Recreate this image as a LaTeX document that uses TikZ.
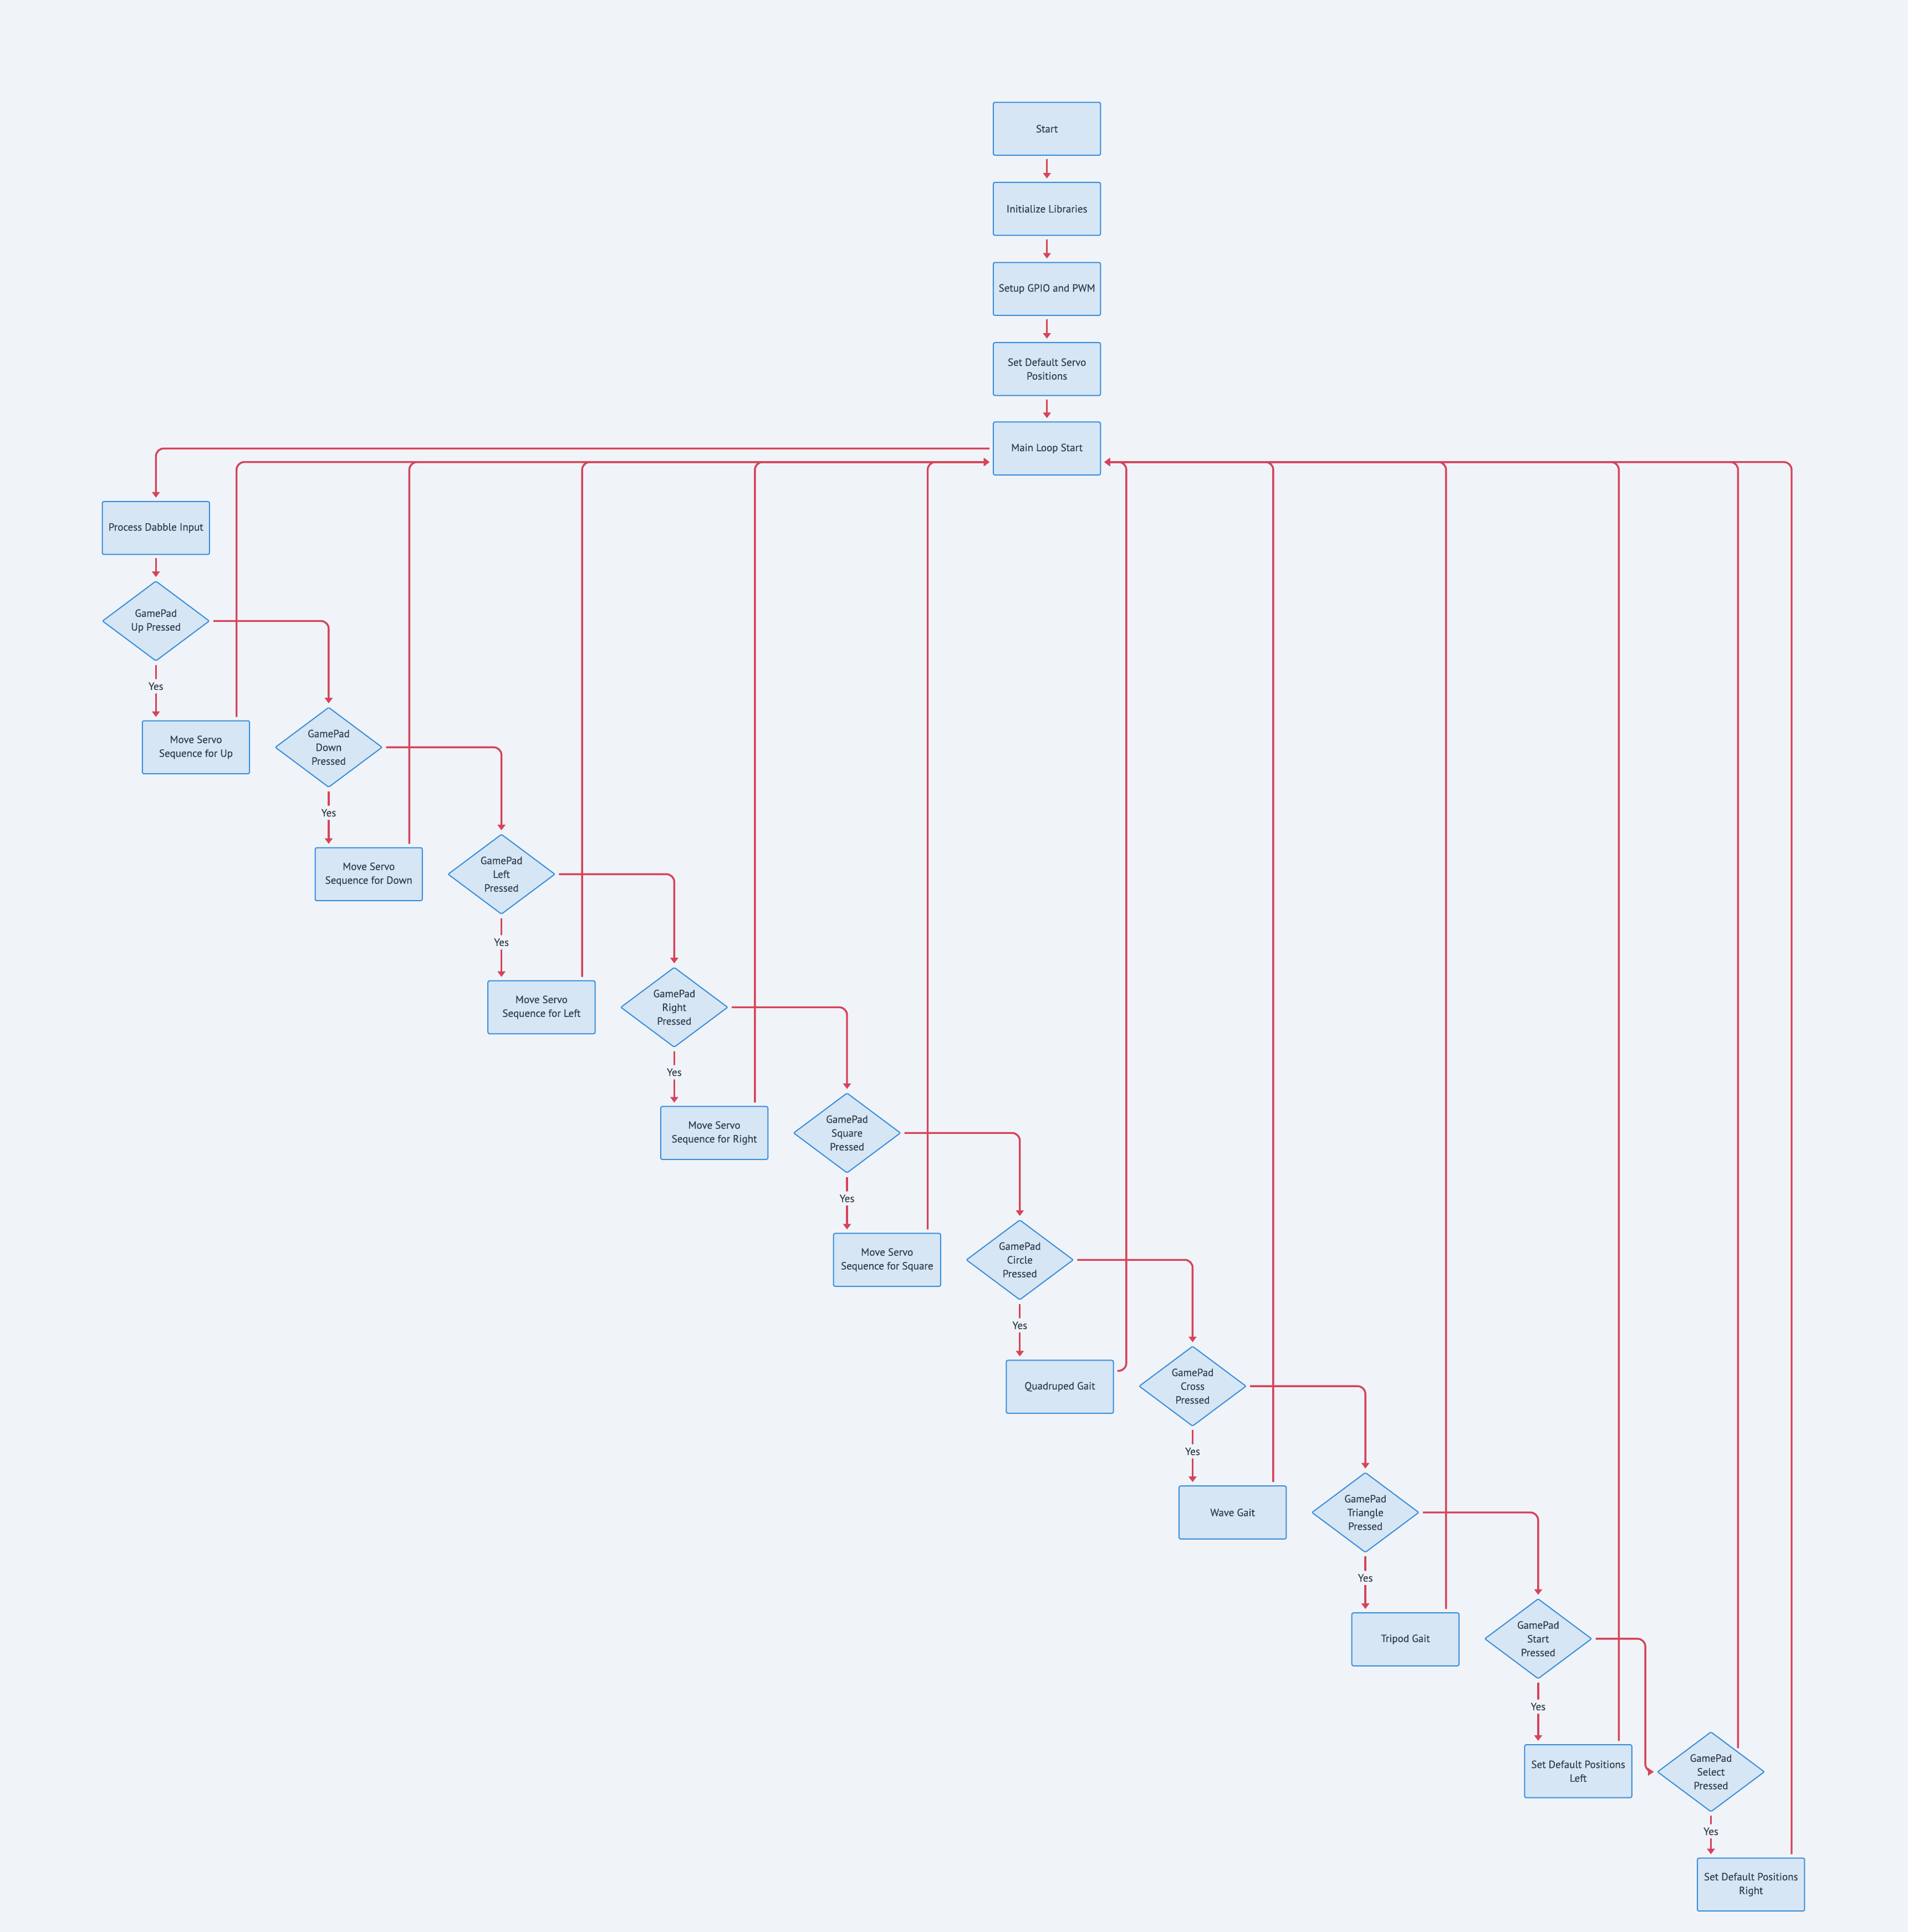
\documentclass[tikz,border=0pt]{standalone}
\usepackage{fontspec}
\setmainfont{PT Sans}[FakeBold=0.4]
\usetikzlibrary{shapes.geometric,arrows.meta,calc}
\definecolor{bgc}{RGB}{240,244,248}
\definecolor{boxf}{RGB}{214,230,245}
\definecolor{boxd}{RGB}{58,142,219}
\definecolor{redc}{RGB}{214,67,90}
\definecolor{txt}{RGB}{52,62,76}
\begin{document}
\begin{tikzpicture}[x=1.11175pt,y=-1.11175pt,
  font=\fontsize{9.5}{12.4}\selectfont,
  proc/.style={draw=boxd, fill=boxf, line width=1pt, rounded corners=1.5pt,
    minimum width=96.7pt, minimum height=47.8pt, align=center, text=txt, inner sep=2pt},
  dec/.style={diamond, draw=boxd, fill=boxf, line width=1pt, rounded corners=1pt,
    minimum width=96.7pt, minimum height=72.3pt, aspect=1.34, inner sep=0pt, align=center, text=txt},
  arr/.style={draw=redc, line width=1.7pt, -{Triangle[width=7pt,length=5pt]},
    rounded corners=7pt, shorten >=3pt, shorten <=3pt},
  yeslbl/.style={fill=bgc, text=txt, inner xsep=1.5pt, inner ysep=3pt, pos=0.42}
]
\fill[bgc] (0,0) rectangle (1548,1568);
\useasboundingbox (0,0) rectangle (1548,1568);

% top chain
\node[proc] (start) at (849.5,104.5) {Start};
\node[proc] (init) at (849.5,169.5) {Initialize Libraries};
\node[proc] (setup) at (849.5,234.5) {Setup GPIO and PWM};
\node[proc] (setdef) at (849.5,299.5) {Set Default Servo\\Positions};
\node[proc] (main) at (849.5,364) {Main Loop Start};
\node[proc] (pdi) at (126.5,428.5) {Process Dabble Input};

% decisions
\node[dec] (dUp) at (126.5,504) {GamePad\\Up Pressed};
\node[dec] (dDown) at (266.7,606.5) {GamePad\\Down\\Pressed};
\node[dec] (dLeft) at (406.9,709.5) {GamePad\\Left\\Pressed};
\node[dec] (dRight) at (547.1,817.5) {GamePad\\Right\\Pressed};
\node[dec] (dSquare) at (687.3,919.5) {GamePad\\Square\\Pressed};
\node[dec] (dCircle) at (827.5,1022.5) {GamePad\\Circle\\Pressed};
\node[dec] (dCross) at (967.7,1125) {GamePad\\Cross\\Pressed};
\node[dec] (dTri) at (1107.9,1227.5) {GamePad\\Triangle\\Pressed};
\node[dec] (dStart) at (1248.1,1330) {GamePad\\Start\\Pressed};
\node[dec] (dSel) at (1388.3,1438) {GamePad\\Select\\Pressed};

% actions
\node[proc] (mUp) at (159,606.5) {Move Servo\\Sequence for Up};
\node[proc] (mDown) at (299.2,709.5) {Move Servo\\Sequence for Down};
\node[proc] (mLeft) at (439.4,817.5) {Move Servo\\Sequence for Left};
\node[proc] (mRight) at (579.6,919.5) {Move Servo\\Sequence for Right};
\node[proc] (mSquare) at (719.8,1022.5) {Move Servo\\Sequence for Square};
\node[proc] (quad) at (860,1125.5) {Quadruped Gait};
\node[proc] (wave) at (1000.2,1227.5) {Wave Gait};
\node[proc] (tri) at (1140.4,1330.5) {Tripod Gait};
\node[proc] (sdpl) at (1280.6,1437.5) {Set Default Positions\\Left};
\node[proc] (sdpr) at (1420.8,1529.5) {Set Default Positions\\Right};

\coordinate (inL) at ($(main.west)+(0,11)$);
\coordinate (inR) at ($(main.east)+(0,11)$);

% chain arrows
\draw[arr] (start) -- (init);
\draw[arr] (init) -- (setup);
\draw[arr] (setup) -- (setdef);
\draw[arr] (setdef) -- (main);
\draw[arr] (main.west) -| (pdi.north);
\draw[arr] (pdi) -- (dUp);

% forward edges between decisions
\draw[arr] (dUp.east) -| (dDown.north);
\draw[arr] (dDown.east) -| (dLeft.north);
\draw[arr] (dLeft.east) -| (dRight.north);
\draw[arr] (dRight.east) -| (dSquare.north);
\draw[arr] (dSquare.east) -| (dCircle.north);
\draw[arr] (dCircle.east) -| (dCross.north);
\draw[arr] (dCross.east) -| (dTri.north);
\draw[arr] (dTri.east) -| (dStart.north);
\draw[arr] (dStart.east) -- ++(43,0) |- (dSel.west);

% yes edges
\draw[arr] (dUp.south) -- node[yeslbl]{Yes} (dUp.south |- mUp.north);
\draw[arr] (dDown.south) -- node[yeslbl]{Yes} (dDown.south |- mDown.north);
\draw[arr] (dLeft.south) -- node[yeslbl]{Yes} (dLeft.south |- mLeft.north);
\draw[arr] (dRight.south) -- node[yeslbl]{Yes} (dRight.south |- mRight.north);
\draw[arr] (dSquare.south) -- node[yeslbl]{Yes} (dSquare.south |- mSquare.north);
\draw[arr] (dCircle.south) -- node[yeslbl]{Yes} (dCircle.south |- quad.north);
\draw[arr] (dCross.south) -- node[yeslbl]{Yes} (dCross.south |- wave.north);
\draw[arr] (dTri.south) -- node[yeslbl]{Yes} (dTri.south |- tri.north);
\draw[arr] (dStart.south) -- node[yeslbl]{Yes} (dStart.south |- sdpl.north);
\draw[arr] (dSel.south) -- node[yeslbl]{Yes} (dSel.south |- sdpr.north);

% returns to main loop (left side)
\draw[arr] ($(mUp.north east)+(-11,0)$) |- (inL);
\draw[arr] ($(mDown.north east)+(-11,0)$) |- (inL);
\draw[arr] ($(mLeft.north east)+(-11,0)$) |- (inL);
\draw[arr] ($(mRight.north east)+(-11,0)$) |- (inL);
\draw[arr] ($(mSquare.north east)+(-11,0)$) |- (inL);

% returns to main loop (right side)
\draw[arr] ($(quad.north east)+(0,9)$) -- ++(10,0) |- (inR);
\draw[arr] ($(wave.north east)+(-11,0)$) |- (inR);
\draw[arr] ($(tri.north east)+(-11,0)$) |- (inR);
\draw[arr] ($(sdpl.north east)+(-11,0)$) |- (inR);
\draw[arr] ($(dSel.north)!0.5!(dSel.east)$) |- (inR);
\draw[arr] ($(sdpr.north east)+(-11,0)$) |- (inR);
\end{tikzpicture}
\end{document}
